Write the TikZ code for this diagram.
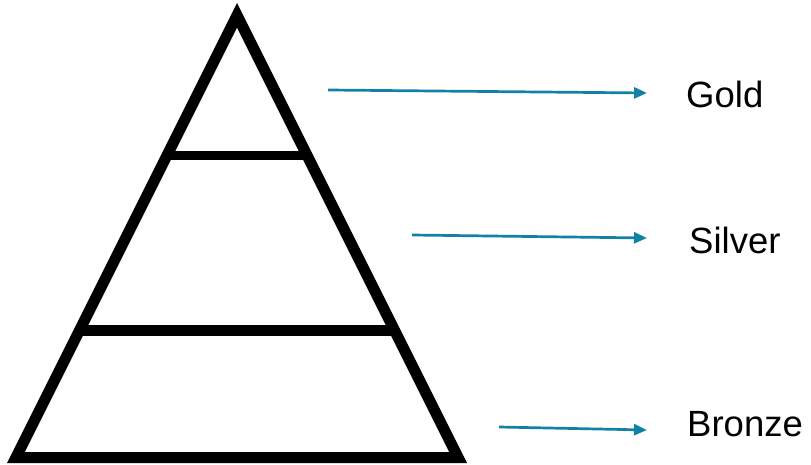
\documentclass[tikz,border=0pt]{standalone}
\usepackage{fontspec}
\setmainfont{Liberation Sans}
\usetikzlibrary{arrows.meta}
\definecolor{teal1}{RGB}{19,128,166}
\begin{document}
\begin{tikzpicture}[x=1pt,y=-1pt,
  tier/.style={line width=11pt,line join=miter,draw=black},
  band/.style={line width=10pt,draw=black},
  pointer/.style={draw=teal1,line width=2.7pt,-{Triangle[length=13pt,width=11pt]}},
  lbl/.style={anchor=base west,inner sep=0pt,font=\fontsize{36.5}{44}\selectfont}]
\useasboundingbox (0,0) rectangle (811,465);
\draw[tier] (237,15.3) -- (15.9,457.5) -- (458.1,457.5) -- cycle;
\draw[band,line width=9pt] (166.6,156) -- (307.4,156);
\draw[band,line width=11pt] (79.6,330.5) -- (394.4,330.5);
\node[lbl] (gold) at (686,108) {Gold};
\node[lbl] (silver) at (689,253) {Silver};
\node[lbl] (bronze) at (687,436) {Bronze};
\coordinate (g1) at (328,90);
\coordinate (g2) at (647,93);
\coordinate (s1) at (412,235);
\coordinate (s2) at (647,238);
\coordinate (b1) at (499,427);
\coordinate (b2) at (647,430);
\draw[pointer] (g1) -- (g2);
\draw[pointer] (s1) -- (s2);
\draw[pointer] (b1) -- (b2);
\end{tikzpicture}
\end{document}
